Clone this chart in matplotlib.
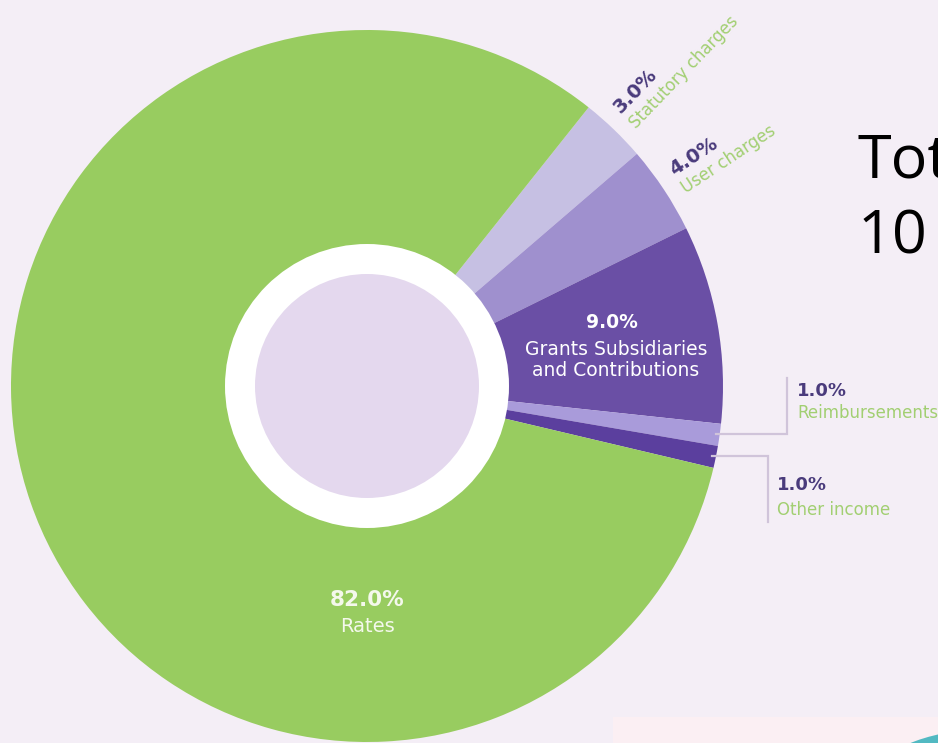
import matplotlib.pyplot as plt
from matplotlib.patches import Circle, Rectangle, Ellipse
import numpy as np

# income split (percent), clockwise from the top right
categories = ["Statutory charges", "User charges",
              "Grants Subsidiaries\nand Contributions",
              "Reimbursements", "Other income", "Rates"]
shares = [3.0, 4.0, 9.0, 1.0, 1.0, 82.0]
colors = ["#C6C0E3", "#9F90CE", "#6A4FA5", "#A99BDA", "#5B3F9E", "#98CC60"]
title_lines = ["Total", "10"]

bg = "#F4EEF6"
dark = "#4A3B7C"
green_txt = "#A2CF72"

W, H = 938, 743
fig = plt.figure(figsize=(W / 100, H / 100), dpi=100)
fig.patch.set_facecolor(bg)
ax = fig.add_axes([0, 0, 1, 1])
ax.set_facecolor(bg)

cx, cy, R = 367, 357, 356
wedges, _ = ax.pie(shares, colors=colors, startangle=51.5, counterclock=False,
                   radius=R, center=(cx, cy), wedgeprops=dict(linewidth=0))
ax.add_patch(Circle((cx, cy), 142, fc="white", ec="none"))
ax.add_patch(Circle((cx, cy), 112, fc="#E4D8EE", ec="none"))


def mid(w):
    return (w.theta1 + w.theta2) / 2


def polar(r, deg):
    a = np.radians(deg)
    return cx + r * np.cos(a), cy + r * np.sin(a)


# rotated outside labels for the two small top slices
for i in (0, 1):
    th = mid(wedges[i])
    x0, y0 = polar(372, th)
    nx, ny = -np.sin(np.radians(th)), np.cos(np.radians(th))
    ax.text(x0 + 11 * nx, y0 + 11 * ny, f"{shares[i]:.1f}%", rotation=th,
            rotation_mode="anchor", ha="left", va="center", fontsize=14,
            fontweight="bold", color=dark)
    ax.text(x0 - 11 * nx, y0 - 11 * ny, categories[i], rotation=th,
            rotation_mode="anchor", ha="left", va="center", fontsize=12,
            color=green_txt)

# grants label inside the slice
ax.text(612, 420, f"{shares[2]:.1f}%", ha="center", va="center", fontsize=13.5,
        fontweight="bold", color="white")
ax.text(616, 383, categories[2], ha="center", va="center", fontsize=13.5,
        color="white", linespacing=1.1)

# leader-line labels for the two 1% slices
# (elbow x, end y of vertical, text x, pct y, name y)
leaders = {3: (787, 365, 797, 352, 330), 4: (768, 221, 777, 258, 233)}
for i, (ex, ey, tx, py, ny_) in leaders.items():
    sx, sy = polar(R - 4, mid(wedges[i]))
    ax.plot([sx, ex, ex], [sy, sy, ey], color="#D0C4DA", lw=1.6,
            solid_joinstyle="miter")
    ax.text(tx, py, f"{shares[i]:.1f}%", ha="left", va="center", fontsize=13,
            fontweight="bold", color=dark)
    ax.text(tx, ny_, categories[i], ha="left", va="center", fontsize=12,
            color=green_txt)

# big slice label
ax.text(cx, 143, f"{shares[5]:.1f}%", ha="center", va="center", fontsize=15.5,
        fontweight="bold", color="#F4F8EC")
ax.text(cx, 116, categories[5], ha="center", va="center", fontsize=14,
        color="#F4F8EC")

# cropped heading on the right
ax.text(858, 566, title_lines[0], ha="left", va="baseline", fontsize=44,
        family="Open Sans", color="black")
ax.text(858, 490, title_lines[1], ha="left", va="baseline", fontsize=44,
        family="Open Sans", color="black")

# bits of the neighbouring panel at the bottom right
ax.add_patch(Rectangle((613, 0), W - 613, 26, fc="#FBEFF3", ec="none"))
ax.add_patch(Ellipse((1000, -30), 240, 90, fc="#52B9C2", ec="none"))

ax.set_xlim(0, W)
ax.set_ylim(0, H)
ax.set_aspect("equal")
ax.axis("off")

fig.savefig("out.png", dpi=100, facecolor=bg)
